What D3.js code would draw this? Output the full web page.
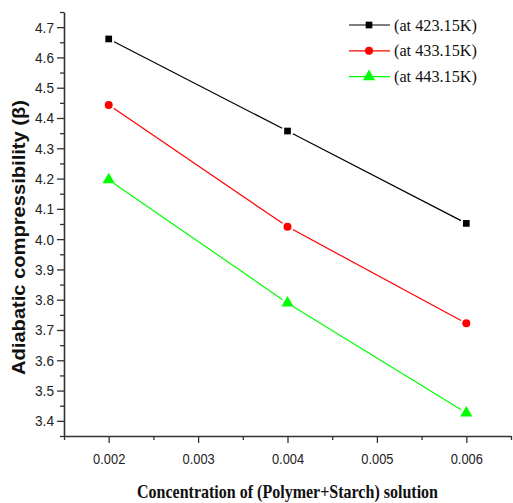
<!DOCTYPE html>
<html>
<head>
<meta charset="utf-8">
<script src="https://cdn.jsdelivr.net/npm/d3@7"></script>
<style>
  body { margin: 0; background: #fff; }
</style>
</head>
<body>
<div id="chart"></div>
<script>
// data
const concentrations = [0.002, 0.004, 0.006];
const at423 = [4.661, 4.357, 4.052];
const at433 = [4.443, 4.041, 3.722];
const at443 = [4.196, 3.789, 3.426];
const seriesNames = ["(at 423.15K)", "(at 433.15K)", "(at 443.15K)"];
const xTicks = [0.002, 0.003, 0.004, 0.005, 0.006];
const yTicks = [3.4, 3.5, 3.6, 3.7, 3.8, 3.9, 4.0, 4.1, 4.2, 4.3, 4.4, 4.5, 4.6, 4.7];

const series = [
    {name: seriesNames[0], values: at423, color: "#000000", symbol: d3.symbolSquare, size: 45},
    {name: seriesNames[1], values: at433, color: "#ff0000", symbol: d3.symbolCircle, size: 50},
    {name: seriesNames[2], values: at443, color: "#00ff00", symbol: d3.symbolTriangle, size: 65}
];

let margin = {top: 12, right: 2, bottom: 67, left: 64},
    width = 513 - margin.left - margin.right,
    height = 503 - margin.top - margin.bottom;

let svg = d3.select("#chart")
    .append("svg")
        .attr("width", 513)
        .attr("height", 503)
    .append("g")
        .attr("transform", `translate(${margin.left},${margin.top})`);

let x = d3.scaleLinear()
    .domain([0.0015, 0.0065])
    .range([0, width]);

let y = d3.scaleLinear()
    .domain([3.35, 4.75])
    .range([height, 0]);

const axisColor = "#333";

// squeeze text horizontally like the original's narrow fonts
function squeeze(sel, factor) {
    sel.each(function() {
        let w = this.getComputedTextLength();
        d3.select(this)
            .attr("textLength", w * factor)
            .attr("lengthAdjust", "spacingAndGlyphs");
    });
}

// minor ticks
let xMinor = d3.range(0.0015, 0.0066, 0.0005).filter(v => Math.abs(Math.round(v * 1000) - v * 1000) > 1e-6);
let yMinor = d3.range(3.35, 4.76, 0.1);

let xAxis = svg.append("g")
    .attr("transform", `translate(0,${height})`)
    .call(d3.axisBottom(x).tickValues(xTicks).tickFormat(d3.format(".3f")).tickSize(7).tickSizeOuter(0));
svg.append("g")
    .attr("transform", `translate(0,${height})`)
    .call(d3.axisBottom(x).tickValues(xMinor).tickFormat("").tickSize(4).tickSizeOuter(0))
    .select(".domain").remove();

let yAxis = svg.append("g")
    .call(d3.axisLeft(y).tickValues(yTicks).tickFormat(d3.format(".1f")).tickSize(7).tickSizeOuter(0));
svg.append("g")
    .call(d3.axisLeft(y).tickValues(yMinor).tickFormat("").tickSize(4).tickSizeOuter(0))
    .select(".domain").remove();

svg.selectAll(".domain").attr("stroke", axisColor).attr("stroke-width", 1.6);
svg.selectAll(".tick line").attr("stroke", axisColor).attr("stroke-width", 1.3);
svg.selectAll(".tick text")
    .attr("fill", "#222")
    .style("font-family", "'Liberation Sans', Arial, sans-serif")
    .style("font-size", "15.5px");
xAxis.selectAll(".tick text").attr("y", 0).attr("dy", 0).attr("dominant-baseline", "auto")
    .attr("transform", `translate(0,${464 - 12 - height})`);
xAxis.selectAll(".tick text").attr("y", 0);
yAxis.selectAll(".tick text").attr("x", -10);
squeeze(xAxis.selectAll(".tick text"), 0.83);
squeeze(yAxis.selectAll(".tick text"), 0.88);

// lines, stopping short of the markers
let gap = 6;
series.forEach(s => {
    let pts = concentrations.map((c, i) => [x(c), y(s.values[i])]);
    for (let i = 0; i < pts.length - 1; i++) {
        let [x1, y1] = pts[i], [x2, y2] = pts[i + 1];
        let len = Math.hypot(x2 - x1, y2 - y1);
        let ux = (x2 - x1) / len, uy = (y2 - y1) / len;
        svg.append("line")
            .attr("x1", x1 + ux * gap).attr("y1", y1 + uy * gap)
            .attr("x2", x2 - ux * gap).attr("y2", y2 - uy * gap)
            .attr("stroke", s.color)
            .attr("stroke-width", 1.2);
    }
    svg.append("g")
        .selectAll("path")
        .data(concentrations)
        .enter()
        .append("path")
            .attr("d", d3.symbol().type(s.symbol).size(s.size))
            .attr("transform", (d, i) => `translate(${x(d)},${y(s.values[i])})`)
            .attr("fill", s.color);
});

// legend
let legend = svg.append("g")
    .attr("transform", `translate(${349 - margin.left},${25 - margin.top})`);
series.forEach((s, i) => {
    let row = legend.append("g").attr("transform", `translate(0,${i * 25.8})`);
    row.append("line")
        .attr("x1", 0).attr("x2", 41)
        .attr("stroke", s.color).attr("stroke-width", 1.2);
    row.append("path")
        .attr("d", d3.symbol().type(s.symbol).size(s.size))
        .attr("transform", "translate(20,0)")
        .attr("fill", s.color);
    row.append("text")
        .attr("x", 45)
        .attr("dy", "0.35em")
        .style("font-family", "'Liberation Serif', 'Times New Roman', serif")
        .style("font-size", "16px")
        .attr("fill", "#111")
        .attr("textLength", 83)
        .attr("lengthAdjust", "spacingAndGlyphs")
        .text(s.name);
});

// axis titles
svg.append("text")
    .attr("transform", `translate(${25 - margin.left},${237.5 - margin.top}) rotate(-90)`)
    .attr("text-anchor", "middle")
    .style("font-family", "'Liberation Sans', Arial, sans-serif")
    .style("font-size", "18px")
    .style("font-weight", "bold")
    .attr("fill", "#111")
    .attr("textLength", 275)
    .attr("lengthAdjust", "spacingAndGlyphs")
    .text("Adiabatic compressibility (β)");

svg.append("text")
    .attr("x", 287.5 - margin.left)
    .attr("y", 498 - margin.top)
    .attr("text-anchor", "middle")
    .style("font-family", "'Liberation Serif', 'Times New Roman', serif")
    .style("font-size", "19px")
    .style("font-weight", "bold")
    .attr("fill", "#111")
    .attr("textLength", 301)
    .attr("lengthAdjust", "spacingAndGlyphs")
    .text("Concentration of (Polymer+Starch) solution");
</script>
</body>
</html>
